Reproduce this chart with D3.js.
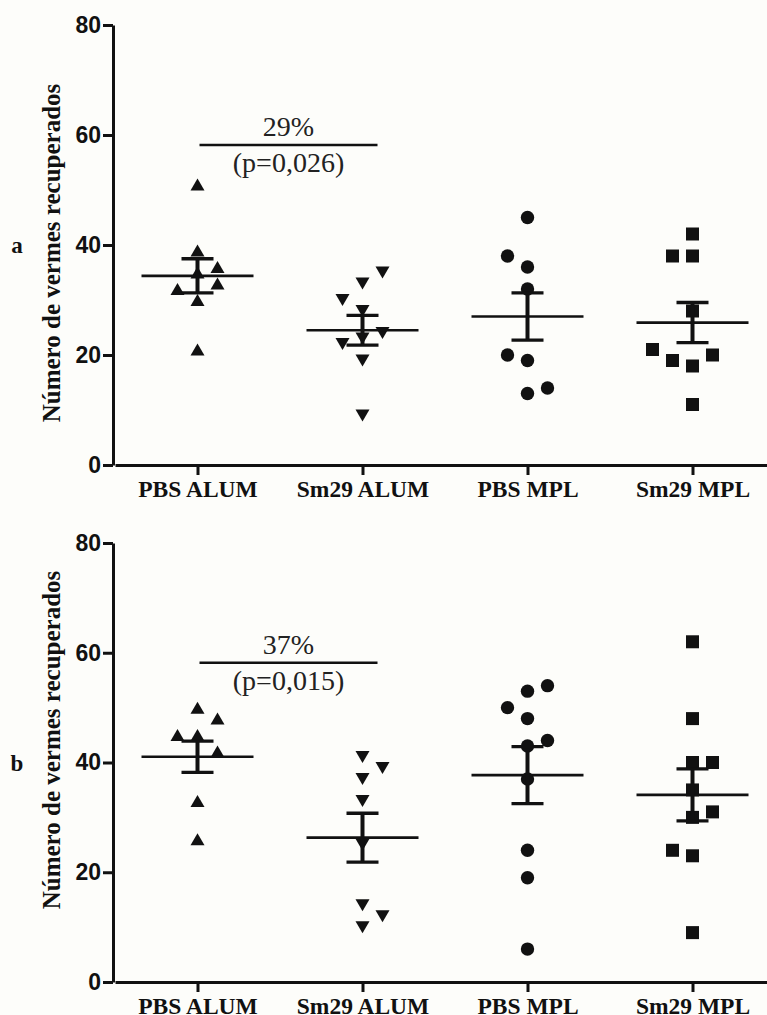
<!DOCTYPE html>
<html>
<head>
<meta charset="utf-8">
<style>
body { margin: 0; background: #fdfdfa; }
svg { display: block; background: #fdfdfa; }
.axis path, .axis line { stroke: #111; stroke-width: 3px; }
.yaxis text { font-family: "Liberation Sans", Arial, sans-serif; font-weight: bold; font-size: 23px; fill: #111; }
.xaxis text { font-family: "Liberation Serif", "Times New Roman", serif; font-weight: bold; font-size: 23.5px; fill: #111; }
.title { font-family: "Liberation Serif", "Times New Roman", serif; font-weight: bold; font-size: 25px; fill: #111; }
.plabel { font-family: "Liberation Serif", "Times New Roman", serif; font-weight: bold; font-size: 23px; fill: #111; }
.note { font-family: "Liberation Serif", "Times New Roman", serif; font-size: 28px; fill: #222; }
</style>
</head>
<body>
<svg width="767" height="1015"></svg>
<script src="https://cdn.jsdelivr.net/npm/d3@7"></script>
<script>
// groups on the x axis
var groups = ["PBS ALUM", "Sm29 ALUM", "PBS MPL", "Sm29 MPL"];
var yTicks = [0, 20, 40, 60, 80];

// panel a: worms recovered per mouse, and column side (-1 left, 0 centre, 1 right)
var aPbsAlum  = [51, 39, 36, 35, 33, 32, 30, 21];
var aPbsAlumSide  = [0, 0, 1, 0, 1, -1, 0, 0];
var aSm29Alum = [35, 33, 30, 28, 24, 23, 22, 19, 9];
var aSm29AlumSide = [1, 0, -1, 0, 1, 0, -1, 0, 0];
var aPbsMpl   = [45, 38, 36, 32, 20, 19, 14, 13];
var aPbsMplSide   = [0, -1, 0, 0, -1, 0, 1, 0];
var aSm29Mpl  = [42, 38, 38, 28, 21, 20, 19, 18, 11];
var aSm29MplSide  = [0, -1, 0, 0, -2, 1, -1, 0, 0];
var aMean = [34.4, 24.5, 27.0, 25.9];
var aSem  = [3.1, 2.7, 4.3, 3.65];

// panel b
var bPbsAlum  = [50, 48, 45, 45, 42, 33, 26];
var bPbsAlumSide  = [0, 1, -1, 0, 1, 0, 0];
var bSm29Alum = [41, 39, 37, 33, 25, 14, 12, 10];
var bSm29AlumSide = [0, 1, 0, 0, 0, 0, 1, 0];
var bPbsMpl   = [54, 53, 50, 48, 44, 43, 37, 24, 19, 6];
var bPbsMplSide   = [1, 0, -1, 0, 1, 0, 0, 0, 0, 0];
var bSm29Mpl  = [62, 48, 40, 40, 35, 31, 30, 24, 23, 9];
var bSm29MplSide  = [0, 0, 0, 1, 0, 1, 0, -1, 0, 0];
var bMean = [41.05, 26.3, 37.7, 34.1];
var bSem  = [2.85, 4.45, 5.2, 4.75];

var notePct = ["29%", "37%"];
var noteP   = ["(p=0,026)", "(p=0,015)"];
var noteLevel = 58.2;

var shapes = ["up", "down", "circle", "square"];

var panels = [
  { label: "a", top: 25, bottom: 465, titleY: 253, labelY: 253,
    values: [aPbsAlum, aSm29Alum, aPbsMpl, aSm29Mpl],
    sides: [aPbsAlumSide, aSm29AlumSide, aPbsMplSide, aSm29MplSide],
    mean: aMean, sem: aSem, pct: notePct[0], p: noteP[0] },
  { label: "b", top: 543, bottom: 982, titleY: 740, labelY: 771,
    values: [bPbsAlum, bSm29Alum, bPbsMpl, bSm29Mpl],
    sides: [bPbsAlumSide, bSm29AlumSide, bPbsMplSide, bSm29MplSide],
    mean: bMean, sem: bSem, pct: notePct[1], p: noteP[1] }
];

var svg = d3.select("svg");

var x = d3.scalePoint()
    .domain(groups)
    .range([115, 775])
    .padding(0.5);

var jitter = 20;

function symbolPath(s) {
  if (s == "up") return "M0,-6L7,6L-7,6Z";
  if (s == "down") return "M0,6L7,-6L-7,-6Z";
  if (s == "square") return "M-6.5,-6.5h13v13h-13Z";
  return d3.symbol(d3.symbolCircle, Math.PI * 6.7 * 6.7)();
}

panels.forEach(function(p) {
  var y = d3.scaleLinear().domain([0, 80]).range([p.bottom, p.top]);
  var g = svg.append("g");

  g.append("g")
      .attr("class", "axis xaxis")
      .attr("transform", "translate(0," + p.bottom + ")")
      .call(d3.axisBottom(x).tickSize(10).tickSizeOuter(0).tickPadding(5));

  g.append("g")
      .attr("class", "axis yaxis")
      .attr("transform", "translate(113,0)")
      .call(d3.axisLeft(y).tickValues(yTicks).tickSize(10).tickSizeOuter(0).tickPadding(2));

  g.append("text")
      .attr("class", "title")
      .attr("transform", "translate(60," + p.titleY + ") rotate(-90)")
      .attr("text-anchor", "middle")
      .text("Número de vermes recuperados");

  g.append("text")
      .attr("class", "plabel")
      .attr("x", 17)
      .attr("y", p.labelY)
      .attr("text-anchor", "middle")
      .text(p.label);

  // points
  groups.forEach(function(name, i) {
    g.append("g")
      .selectAll("path")
      .data(p.values[i])
      .enter().append("path")
        .attr("d", symbolPath(shapes[i]))
        .attr("fill", "#111")
        .attr("transform", function(d, j) {
          return "translate(" + (x(name) + p.sides[i][j] * jitter) + "," + y(d) + ")";
        });
  });

  // mean and SEM
  var bars = g.append("g").attr("stroke", "#111").attr("fill", "none");
  groups.forEach(function(name, i) {
    var cx = x(name), m = p.mean[i], s = p.sem[i];
    bars.append("line")
        .attr("x1", cx - 56).attr("x2", cx + 56)
        .attr("y1", y(m)).attr("y2", y(m))
        .attr("stroke-width", 2.7);
    bars.append("line")
        .attr("x1", cx).attr("x2", cx)
        .attr("y1", y(m + s)).attr("y2", y(m - s))
        .attr("stroke-width", 4);
    [m + s, m - s].forEach(function(v) {
      bars.append("line")
          .attr("x1", cx - 16).attr("x2", cx + 16)
          .attr("y1", y(v)).attr("y2", y(v))
          .attr("stroke-width", 3.3);
    });
  });

  // significance note between the two ALUM groups
  var x1 = x(groups[0]) + 2, x2 = x(groups[1]) + 15, ly = y(noteLevel);
  g.append("line")
      .attr("x1", x1).attr("x2", x2)
      .attr("y1", ly).attr("y2", ly)
      .attr("stroke", "#111")
      .attr("stroke-width", 2.5);
  g.append("text")
      .attr("class", "note")
      .attr("x", (x1 + x2) / 2)
      .attr("y", ly - 9)
      .attr("text-anchor", "middle")
      .text(p.pct);
  g.append("text")
      .attr("class", "note")
      .attr("x", (x1 + x2) / 2)
      .attr("y", ly + 27)
      .attr("text-anchor", "middle")
      .text(p.p);
});
</script>
</body>
</html>
